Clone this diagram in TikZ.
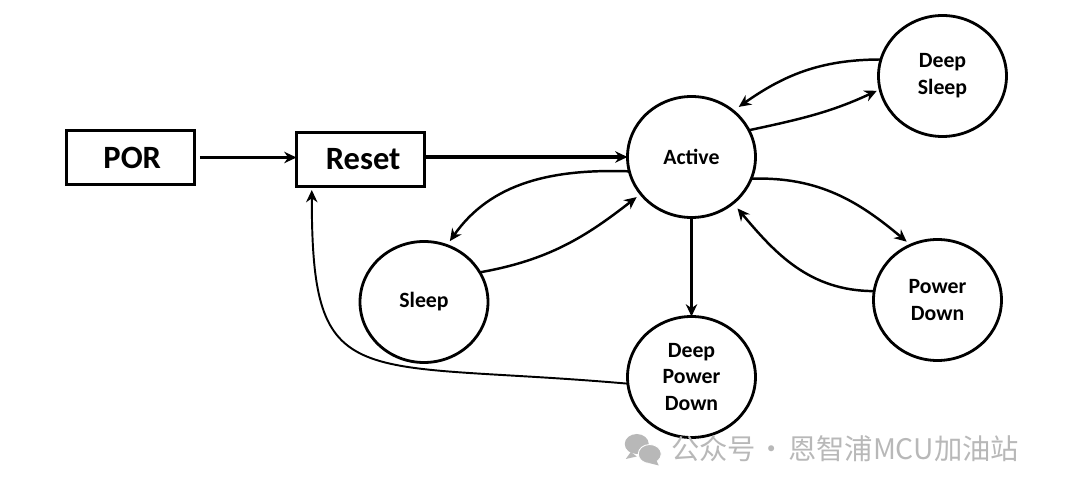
\documentclass[tikz,border=0pt]{standalone}
\usepackage{fontspec}
\setmainfont{Carlito}
\newfontfamily\cjkfont{Noto Sans CJK SC}
\usetikzlibrary{shapes.geometric,arrows.meta,positioning,calc}
\definecolor{markgray}{RGB}{184,184,184}

\begin{document}
\begin{tikzpicture}[
  blockbox/.style={rectangle, draw=black, line width=1.7pt, minimum width=2.56cm,
                   minimum height=1.08cm, inner sep=0pt, outer sep=0pt,
                   font=\fontsize{18.5}{22}\selectfont\bfseries},
  statebox/.style={ellipse, draw=black, line width=1.6pt, minimum width=2.56cm,
                   minimum height=2.42cm, inner sep=0pt, outer sep=0pt, align=center,
                   font=\fontsize{12.4}{15.3}\selectfont\bfseries},
  arr/.style={-{Stealth[length=7pt,width=6.5pt]}, line width=1.4pt, color=black},
  markicon/.style={fill=markgray, draw=white, line width=0.5pt}
]
  \useasboundingbox (-2.61,-6.41) rectangle (19.09,3.15);

  \node[blockbox] (por) {\hspace*{2pt}POR};
  \node[blockbox, right=2.04cm of por, yshift=-0.04cm] (reset) {\hspace*{3pt}\raisebox{-1pt}{Reset}};
  \node[statebox, right=4.06cm of reset, yshift=0.05cm] (active) {Active};
  \node[statebox, right=2.46cm of active, yshift=1.62cm] (dsleep) {Deep\\Sleep};
  \node[statebox, right=2.36cm of active, yshift=-2.86cm] (pdown) {Power\\Down};
  \node[statebox, below=1.98cm of active] (dpdown) {Deep\\Power\\Down};
  \node[statebox, below=0.48cm of active, xshift=-5.35cm] (sleep) {Sleep};
  \node[font=\cjkfont\fontsize{16.1}{19}\selectfont, text=markgray, inner sep=0pt]
    (mark) at ($(dpdown.center)+(3.07,-1.44)$) {公众号\hspace{1.1pt}·\hspace{1.1pt}恩智浦MCU加油站};

  % chat bubbles in front of the account name
  \fill[markgray] (mark.west) ++(-0.68,0.1) ellipse (0.24 and 0.2);
  \fill[markgray] (mark.west) ++(-0.8,-0.06) -- ++(-0.1,-0.14) -- ++(0.22,0.05) -- cycle;
  \draw[markicon] (mark.west) ++(-0.42,-0.1) ellipse (0.23 and 0.19);
  \fill[markgray] (mark.west) ++(-0.3,-0.2) -- ++(0.06,-0.13) -- ++(-0.2,0.05) -- cycle;

  \draw[arr, line width=1.6pt, shorten <=3pt] (por.east) -- (reset.west |- por.east);
  \draw[arr, line width=2.2pt, shorten <=1pt] (reset.east |- active.west) -- (active.west);

  \draw[arr, shorten >=2pt] (active.25) to[out=12,in=205] (dsleep.192);
  \draw[arr, shorten >=4pt] (dsleep.165) to[out=180,in=35] (active.48);
  \draw[arr, shorten >=3pt] (active.-20) to[out=2,in=140] (pdown.116);
  \draw[arr, shorten >=4pt] (pdown.172) to[out=180,in=-50] (active.-48);
  \draw[arr, line width=1.25pt] (active) -- (dpdown);
  \draw[arr, shorten >=3pt] (active.193) to[out=178,in=55] (sleep.68);
  \draw[arr, shorten >=3pt] (sleep.28) to[out=10,in=218] (active.216);
  \draw[arr, line width=1.1pt, shorten >=2pt] (dpdown.186)
    to[out=175,in=-90,out looseness=1.9,in looseness=1.45] (reset.209);
\end{tikzpicture}
\end{document}
